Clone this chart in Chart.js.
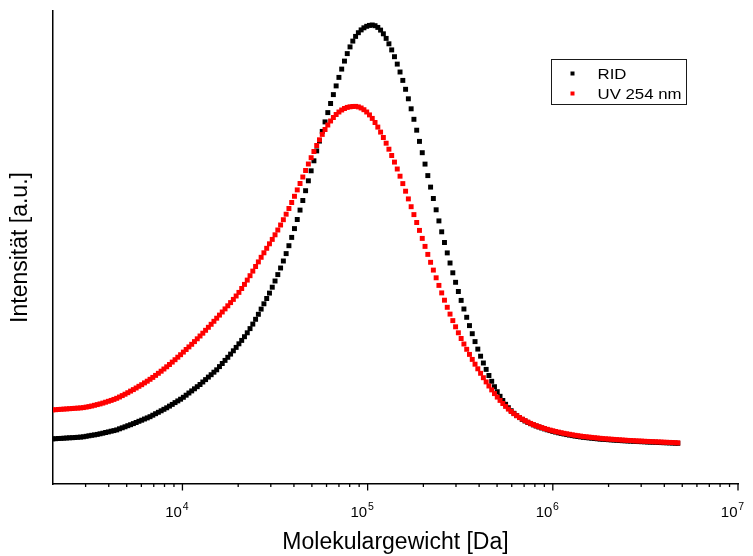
<!DOCTYPE html>
<html>
<head>
<meta charset="utf-8">
<script src="https://cdn.jsdelivr.net/npm/chart.js@4/dist/chart.umd.min.js"></script>
<style>
  html, body { margin: 0; padding: 0; background: #ffffff; }
  #wrap { width: 753px; height: 556px; }
</style>
</head>
<body>
<div id="wrap"><canvas id="chart" width="753" height="556"></canvas></div>
<script>
// ---- Data ----
// log10 of molecular weight [Da] for each sample point
const logMolWeight = [
  3.300,3.315,3.330,3.345,3.360,3.375,3.390,3.405,3.420,3.435,3.450,3.465,3.480,3.495,3.510,3.525,3.540,3.555,3.570,3.585,
  3.600,3.615,3.630,3.645,3.660,3.675,3.690,3.705,3.720,3.735,3.750,3.765,3.780,3.795,3.810,3.825,3.840,3.855,3.870,3.885,
  3.900,3.915,3.930,3.945,3.960,3.975,3.990,4.005,4.020,4.035,4.050,4.065,4.080,4.095,4.110,4.125,4.140,4.155,4.170,4.185,
  4.200,4.215,4.230,4.245,4.260,4.275,4.290,4.305,4.320,4.335,4.350,4.365,4.380,4.395,4.410,4.425,4.440,4.455,4.470,4.485,
  4.500,4.515,4.530,4.545,4.560,4.575,4.590,4.605,4.620,4.635,4.650,4.665,4.680,4.695,4.710,4.725,4.740,4.755,4.770,4.785,
  4.800,4.815,4.830,4.845,4.860,4.875,4.890,4.905,4.920,4.935,4.950,4.965,4.980,4.995,5.010,5.025,5.040,5.055,5.070,5.085,
  5.100,5.115,5.130,5.145,5.160,5.175,5.190,5.205,5.220,5.235,5.250,5.265,5.280,5.295,5.310,5.325,5.340,5.355,5.370,5.385,
  5.400,5.415,5.430,5.445,5.460,5.475,5.490,5.505,5.520,5.535,5.550,5.565,5.580,5.595,5.610,5.625,5.640,5.655,5.670,5.685,
  5.700,5.715,5.730,5.745,5.760,5.775,5.790,5.805,5.820,5.835,5.850,5.865,5.880,5.895,5.910,5.925,5.940,5.955,5.970,5.985,
  6.000,6.015,6.030,6.045,6.060,6.075,6.090,6.105,6.120,6.135,6.150,6.165,6.180,6.195,6.210,6.225,6.240,6.255,6.270,6.285,
  6.300,6.315,6.330,6.345,6.360,6.375,6.390,6.405,6.420,6.435,6.450,6.465,6.480,6.495,6.510,6.525,6.540,6.555,6.570,6.585,
  6.600,6.615,6.630,6.645,6.660,6.675
];

// RID signal [a.u.]
const ridSignal = [
  45.1,45.3,45.5,45.6,45.8,46.0,46.2,46.3,46.5,46.7,46.9,47.2,47.7,48.2,48.7,49.1,49.6,50.2,50.8,51.5,
  52.1,52.8,53.4,54.1,55.2,56.2,57.2,58.3,59.3,60.4,61.5,62.7,63.8,65.0,66.1,67.3,68.8,70.3,71.7,73.2,
  74.7,76.2,77.9,79.6,81.4,83.1,84.8,86.7,88.8,91.0,93.1,95.2,97.3,99.5,102.0,104.4,106.9,109.3,111.8,114.2,
  117.4,120.5,123.6,126.7,129.9,133.2,136.6,140.2,143.6,147.3,151.2,155.4,159.9,164.7,169.7,174.9,180.2,185.5,190.9,196.8,
  203.0,209.4,216.0,223.0,230.4,238.3,246.6,255.4,264.5,273.9,283.5,293.3,303.2,313.2,323.2,333.1,342.9,352.6,362.1,371.4,
  380.5,389.4,398.1,406.6,414.9,422.9,430.4,437.1,442.9,447.6,451.3,454.1,456.2,457.7,458.6,459.0,458.3,456.6,453.9,450.2,
  445.6,440.2,434.1,427.3,419.9,412.0,403.6,394.7,385.2,375.2,364.7,353.8,342.6,331.3,319.9,308.4,296.9,285.5,274.2,263.1,
  252.2,241.5,231.1,221.0,211.2,201.7,192.5,183.6,175.0,166.7,158.4,150.3,142.4,134.9,127.8,121.0,114.6,108.5,102.7,97.3,
  92.3,87.7,83.5,79.7,76.3,73.3,70.7,68.4,66.4,64.6,63.0,61.6,60.3,59.1,58.0,57.0,56.0,55.1,54.2,53.4,
  52.6,51.9,51.2,50.6,50.0,49.4,48.9,48.4,47.9,47.5,47.1,46.7,46.4,46.1,45.8,45.5,45.2,44.9,44.7,44.5,
  44.3,44.1,43.9,43.7,43.5,43.3,43.2,43.0,42.9,42.7,42.6,42.4,42.3,42.2,42.0,41.9,41.8,41.7,41.5,41.4,
  41.3,41.2,41.1,41.0,40.8,40.7
];

// UV 254 nm signal [a.u.]
const uvSignal = [
  74.1,74.3,74.5,74.7,74.9,75.1,75.3,75.5,75.7,75.9,76.1,76.4,76.9,77.4,78.0,78.7,79.4,80.1,80.9,81.8,
  82.7,83.6,84.6,85.7,87.0,88.4,89.8,91.3,92.9,94.4,96.0,97.7,99.3,101.1,102.8,104.7,106.6,108.6,110.7,112.8,
  115.0,117.2,119.5,121.9,124.3,126.8,129.3,131.9,134.5,137.1,139.7,142.4,145.2,148.0,150.8,153.7,156.7,159.7,162.7,165.8,
  168.9,172.0,175.1,178.2,181.4,184.6,188.0,191.6,195.5,199.6,203.9,208.3,212.9,217.5,222.1,226.7,231.2,235.7,240.2,244.6,
  249.2,254.0,259.0,264.3,269.8,275.5,281.5,287.7,294.1,300.5,307.0,313.5,320.0,326.3,332.5,338.5,344.2,349.6,354.5,359.0,
  363.0,366.5,369.5,372.0,374.0,375.5,376.6,377.2,377.5,377.6,377.1,376.0,374.3,372.0,369.1,365.6,361.5,356.9,351.9,346.5,
  340.8,334.8,328.5,321.9,315.0,307.8,300.4,292.8,285.1,277.3,269.4,261.5,253.6,245.6,237.6,229.6,221.7,213.9,206.2,198.6,
  191.1,183.8,176.7,169.9,163.4,157.2,151.2,145.5,140.0,134.7,129.6,124.6,119.8,115.2,110.7,106.3,102.1,98.0,94.1,90.4,
  86.9,83.6,80.5,77.6,74.9,72.5,70.3,68.3,66.5,64.9,63.4,61.9,60.6,59.4,58.3,57.3,56.4,55.5,54.7,53.9,
  53.2,52.5,51.9,51.3,50.7,50.2,49.7,49.2,48.7,48.3,47.9,47.5,47.2,46.9,46.6,46.3,46.0,45.7,45.4,45.2,
  45.0,44.8,44.6,44.4,44.2,44.0,43.8,43.6,43.5,43.3,43.1,43.0,42.9,42.7,42.6,42.5,42.3,42.2,42.1,42.0,
  41.8,41.7,41.6,41.5,41.3,41.2
];

const seriesNames = ['RID', 'UV 254 nm'];
const seriesColors = ['#000000', '#ff0000'];
const xRange = [2000, 1e7];
const yRange = [0, 473];
const majorTickValues = [1e4, 1e5, 1e6, 1e7];
const tickBase = '10';
const tickExponents = ['4', '5', '6', '7'];
const xTitle = 'Molekulargewicht [Da]';
const yTitle = 'Intensität [a.u.]';

const FONT = "'Liberation Sans', Arial, Helvetica, sans-serif";

function toPoints(values) {
  return values.map((v, i) => ({ x: Math.pow(10, logMolWeight[i]), y: v }));
}

// Tick marks below the x axis (long for decades, short for 2..9 multiples)
// and the decade labels written as 10 with a raised exponent.
const xAxisDecorPlugin = {
  id: 'xAxisDecor',
  afterDraw(chart) {
    const sx = chart.scales.x;
    const ctx = chart.ctx;
    const base = chart.chartArea.bottom;
    ctx.save();
    ctx.strokeStyle = '#000';
    ctx.lineWidth = 1.3;
    sx.ticks.forEach(t => {
      if (t.value <= xRange[0]) return;
      const px = sx.getPixelForValue(t.value);
      const lg = Math.log10(t.value);
      const major = Math.abs(lg - Math.round(lg)) < 1e-9;
      const len = major ? 6.5 : 3;
      ctx.beginPath();
      ctx.moveTo(px, base);
      ctx.lineTo(px, base + len);
      ctx.stroke();
    });
    ctx.fillStyle = '#000';
    ctx.textBaseline = 'alphabetic';
    majorTickValues.forEach((v, k) => {
      const px = sx.getPixelForValue(v);
      ctx.font = '15px ' + FONT;
      ctx.textAlign = 'right';
      ctx.fillText(tickBase, px - 0.5, base + 32.5);
      ctx.font = '10.5px ' + FONT;
      ctx.textAlign = 'left';
      ctx.fillText(tickExponents[k], px + 0.3, base + 25.5);
    });
    ctx.restore();
  }
};

// Boxed legend inside the plot area (top right)
const boxLegendPlugin = {
  id: 'boxLegend',
  afterDraw(chart) {
    const ctx = chart.ctx;
    const ca = chart.chartArea;
    const bx = ca.left + 498.5, by = ca.top + 48.5, bw = 135, bh = 45;
    ctx.save();
    ctx.strokeStyle = '#1a1a1a';
    ctx.lineWidth = 1;
    ctx.strokeRect(bx, by, bw, bh);
    ctx.textBaseline = 'alphabetic';
    ctx.textAlign = 'left';
    seriesNames.forEach((name, i) => {
      const cy = by + 14 + i * 20;
      ctx.fillStyle = seriesColors[i];
      ctx.fillRect(bx + 19, cy - 2, 4, 4);
      ctx.fillStyle = '#000';
      ctx.save();
      ctx.translate(bx + 46, cy + 5.3);
      ctx.scale(1.12, 1);
      ctx.font = '15px ' + FONT;
      ctx.fillText(name, 0, 0);
      ctx.restore();
    });
    ctx.restore();
  }
};

function makeDataset(k, values, order) {
  return {
    label: seriesNames[k],
    data: toPoints(values),
    pointStyle: 'rect',
    pointRadius: 3.5,
    pointHoverRadius: 3.5,
    pointBorderWidth: 0,
    pointBackgroundColor: seriesColors[k],
    borderColor: seriesColors[k],
    backgroundColor: seriesColors[k],
    showLine: false,
    order: order
  };
}

new Chart(document.getElementById('chart'), {
  type: 'scatter',
  data: {
    datasets: [
      makeDataset(0, ridSignal, 1),
      makeDataset(1, uvSignal, 0)
    ]
  },
  options: {
    responsive: false,
    animation: false,
    devicePixelRatio: 1,
    layout: { padding: { top: 11, right: 15, left: 0, bottom: 0 } },
    plugins: {
      legend: { display: false },
      tooltip: { enabled: false }
    },
    scales: {
      x: {
        type: 'logarithmic',
        position: 'bottom',
        min: xRange[0],
        max: xRange[1],
        grid: { display: false, drawTicks: false },
        border: { display: true, color: '#000', width: 1.5 },
        afterBuildTicks: (scale) => {
          const ticks = [];
          for (let e = 3; e <= 7; e++) {
            for (let m = 1; m <= 9; m++) {
              const v = m * Math.pow(10, e);
              if (v >= xRange[0] && v <= xRange[1]) ticks.push({ value: v });
            }
          }
          scale.ticks = ticks;
        },
        ticks: { display: false, autoSkip: false },
        title: {
          display: true,
          text: xTitle,
          color: '#000',
          font: { family: FONT, size: 23 },
          padding: { top: 0, bottom: 0 }
        },
        afterFit: (scale) => {
          scale.height = 72;
          scale.paddingLeft = 0;
          scale.paddingRight = 0;
        }
      },
      y: {
        type: 'linear',
        min: yRange[0],
        max: yRange[1],
        grid: { display: false, drawTicks: false },
        border: { display: true, color: '#000', width: 1.5 },
        ticks: { display: false },
        title: {
          display: true,
          text: yTitle,
          color: '#000',
          font: { family: FONT, size: 23 },
          padding: { top: 7, bottom: 0 }
        },
        afterFit: (scale) => { scale.width = 53; }
      }
    }
  },
  plugins: [xAxisDecorPlugin, boxLegendPlugin]
});
</script>
</body>
</html>
